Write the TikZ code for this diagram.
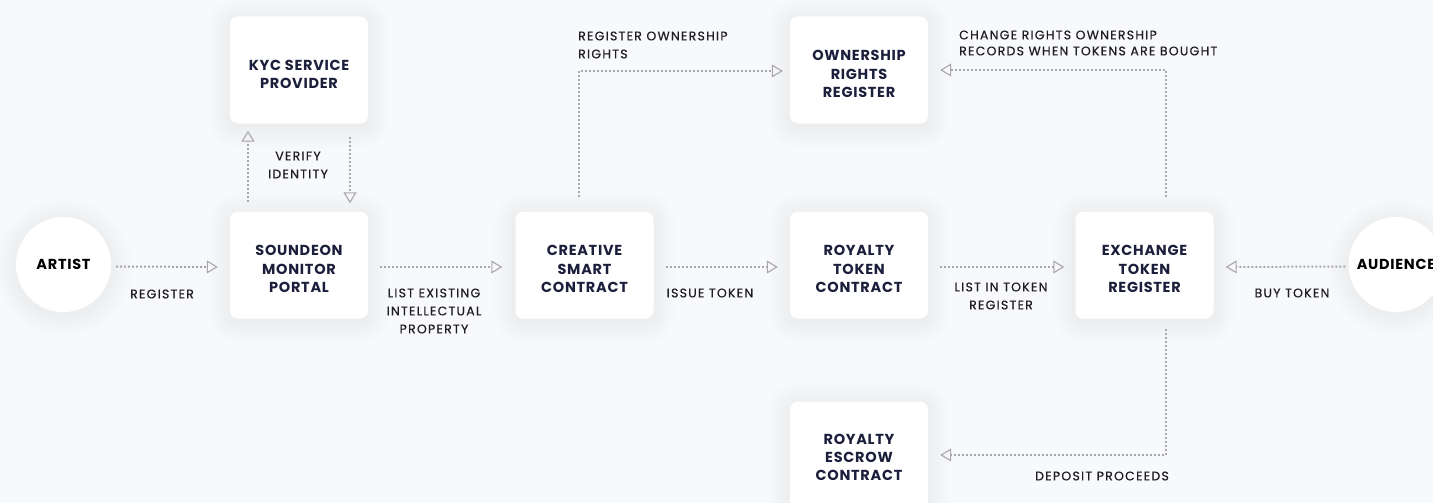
\documentclass[tikz,border=0pt]{standalone}
\usepackage{fontspec}
\setmainfont{Poppins}
\newfontfamily\boxfont{Poppins}[LetterSpace=5]
\newfontfamily\lblfont{Poppins}[LetterSpace=10, FakeBold=0.5]
\usetikzlibrary{arrows.meta}
\pgfdeclarelayer{background}
\pgfsetlayers{background,main}
\definecolor{bgc}{HTML}{F8F9FA}
\definecolor{navy}{HTML}{1B1F3B}
\definecolor{lblc}{HTML}{1E1E22}
\definecolor{arrc}{HTML}{A8A8AA}
\newcommand\boxshadow[1]{%
  \foreach \i [evaluate=\i as \r using 8+2*\i, evaluate=\i as \d using 2*\i] in {1,...,11}
    \fill[black, opacity=0.0045, rounded corners=\r pt]
      ([shift={(-\d pt,-\d pt-3pt)}]#1.south west) rectangle ([shift={(\d pt,\d pt-3pt)}]#1.north east);}
\newcommand\circshadow[1]{%
  \foreach \i [evaluate=\i as \r using 47.5+2*\i] in {1,...,11}
    \fill[black, opacity=0.0045] ([yshift=-3pt]#1.center) circle (\r pt);}
\begin{document}
\begin{tikzpicture}[x=1pt,y=1pt,
  box/.style={fill=white, rounded corners=8pt, minimum width=138pt, minimum height=107pt, inner sep=0pt},
  boxtext/.style={align=center, inner sep=0pt, text=navy, font=\boxfont\bfseries\fontsize{14.5}{18.3}\selectfont},
  circ/.style={circle, fill=white, minimum size=95pt, inner sep=0pt, text=black,
    font=\boxfont\bfseries\fontsize{14.5}{18.3}\selectfont},
  lbl/.style={text=lblc, align=center, inner sep=0pt, font=\lblfont\fontsize{12.5}{18}\selectfont},
  flow/.style={draw=arrc, line width=2pt, dash pattern=on 2pt off 2pt,
    -{Triangle[open, length=11pt, width=13pt, line width=1.1pt]}}]
\useasboundingbox (0,0) rectangle (1433,-503);

\node[circ] (artist) at (63.5,-264.5) {ARTIST};
\node[circ] (aud) at (1396,-264.5) {AUDIENCE};
\node[box] (kyc) at (299,-70) {};
\node[box] (sou) at (299,-265) {};
\node[box] (cre) at (584.5,-265) {};
\node[box] (own) at (859,-70) {};
\node[box] (roy) at (859,-265) {};
\node[box] (exc) at (1144.5,-265) {};
\node[box] (esc) at (859,-455) {};
\node[boxtext] (kyct) at ([yshift=-4.5pt]kyc.center) {KYC SERVICE\\PROVIDER};
\node[boxtext] (sout) at ([yshift=-4pt]sou.center) {SOUNDEON\\MONITOR\\PORTAL};
\node[boxtext] (cret) at ([yshift=-4pt]cre.center) {CREATIVE\\SMART\\CONTRACT};
\node[boxtext] (ownt) at ([yshift=-4pt]own.center) {OWNERSHIP\\RIGHTS\\REGISTER};
\node[boxtext] (royt) at ([yshift=-4pt]roy.center) {ROYALTY\\TOKEN\\CONTRACT};
\node[boxtext] (exct) at ([yshift=-4pt]exc.center) {EXCHANGE\\TOKEN\\REGISTER};
\node[boxtext] (esct) at ([yshift=-2.5pt]esc.center) {ROYALTY\\ESCROW\\CONTRACT};

\begin{pgfonlayer}{background}
\fill[bgc] (0,0) rectangle (1433,-503);
\circshadow{artist}\circshadow{aud}
\boxshadow{kyc}\boxshadow{sou}\boxshadow{cre}\boxshadow{own}\boxshadow{roy}\boxshadow{exc}\boxshadow{esc}
\end{pgfonlayer}

\draw[flow, shorten <=5pt, shorten >=12pt] ([yshift=-2pt]artist.east) -- ([yshift=-2pt]sou.west);
\draw[flow, shorten <=9pt, shorten >=7pt] ([xshift=-51pt]sou.north) -- ([xshift=-51pt]kyc.south);
\draw[flow, shorten <=13pt, shorten >=8pt] ([xshift=51pt]kyc.south) -- ([xshift=51pt]sou.north);
\draw[flow, shorten <=12pt, shorten >=13pt] ([yshift=-2pt]sou.east) -- ([yshift=-2pt]cre.west);
\draw[flow, shorten <=12pt, shorten >=12pt] ([yshift=-2pt]cre.east) -- ([yshift=-2pt]roy.west);
\draw[flow, shorten <=12pt, shorten >=11pt] ([yshift=-2pt]roy.east) -- ([yshift=-2pt]exc.west);
\draw[flow, shorten <=3pt, shorten >=12pt] ([yshift=-2pt]aud.west) -- ([yshift=-2pt]exc.east);
\draw[flow, shorten <=14pt, shorten >=7pt] ([xshift=-5.5pt]cre.north) |- ([yshift=-1pt]own.west);
\draw[flow, shorten <=14pt, shorten >=12pt] ([xshift=21.5pt]exc.north) |- (own.east);
\draw[flow, shorten <=10pt, shorten >=12pt] ([xshift=21.5pt]exc.south) |- (esc.east);

\node[lbl] (l1) at (162,-294) {REGISTER};
\node[lbl] (l2) at (298,-165) {VERIFY\\IDENTITY};
\node[lbl] (l3) at (434,-311) {LIST EXISTING\\INTELLECTUAL\\PROPERTY};
\node[lbl, align=left, anchor=west] (l4) at (578,-45) {REGISTER OWNERSHIP\\RIGHTS};
\node[lbl] (l5) at (710,-293) {ISSUE TOKEN};
\node[lbl] (l6) at (1001,-296) {LIST IN TOKEN\\REGISTER};
\node[lbl, align=left, anchor=west, font=\lblfont\fontsize{12.5}{16}\selectfont] (l7) at (959,-43) {CHANGE RIGHTS OWNERSHIP\\RECORDS WHEN TOKENS ARE BOUGHT};
\node[lbl] (l8) at (1292,-293) {BUY TOKEN};
\node[lbl] (l9) at (1102,-476) {DEPOSIT PROCEEDS};
\end{tikzpicture}
\end{document}
